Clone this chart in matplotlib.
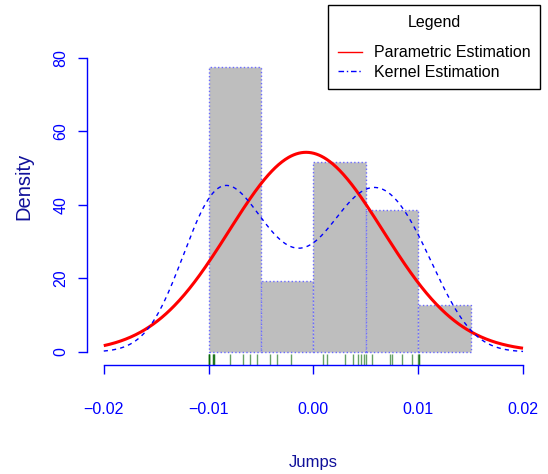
import numpy as np
import matplotlib
matplotlib.use("Agg")
import matplotlib.pyplot as plt
import matplotlib.transforms as mtransforms
from matplotlib.lines import Line2D

jumps = [-0.01000, -0.01000, -0.00995, -0.00995, -0.00957, -0.00957,
         -0.00950, -0.00950, -0.00797, -0.00676, -0.00606, -0.00536,
         -0.00415, -0.00345, -0.00212,
         0.00094, 0.00126, 0.00298, 0.00380, 0.00428, 0.00456, 0.00482, 0.00498,
         0.00558, 0.00730, 0.00752, 0.00848, 0.00937, 0.00995,
         0.01004, 0.01010]
bin_edges = [-0.010, -0.005, 0.000, 0.005, 0.010, 0.015]

# fitted normal and kernel bandwidth
param_mean = -0.0007
param_sd = 0.00735
kernel_bw = 0.0033

x_ticks = [-0.02, -0.01, 0.00, 0.01, 0.02]
x_tick_labels = ["\u22120.02", "\u22120.01", "0.00", "0.01", "0.02"]
y_ticks = [0, 20, 40, 60, 80]
y_tick_labels = ["0", "20", "40", "60", "80"]

plt.rcParams["font.family"] = ["Liberation Sans", "DejaVu Sans"]

fig = plt.figure(figsize=(5.48, 4.74), dpi=100)
ax = fig.add_axes([87 / 548, 1 - 365 / 474, (539.8 - 87) / 548, 350 / 474])

# histogram
ax.hist(jumps, bins=bin_edges, density=True, color="#BEBEBE",
        edgecolor="#6a6aff", linestyle=":", linewidth=1.0)

# density curves over the axis range
xs = np.linspace(x_ticks[0], x_ticks[-1], 500)
obs = np.array(jumps)
normal = np.exp(-0.5 * ((xs - param_mean) / param_sd) ** 2) / (param_sd * np.sqrt(2 * np.pi))
kern = np.exp(-0.5 * ((xs[:, None] - obs[None, :]) / kernel_bw) ** 2).sum(axis=1)
kern = kern / (len(obs) * kernel_bw * np.sqrt(2 * np.pi))

ax.plot(xs, normal, color="red", lw=2.2, solid_capstyle="butt")
ax.plot(xs, kern, color="blue", lw=1.0, dashes=(3.0, 3.0))

# rug
trans = mtransforms.blended_transform_factory(ax.transData, ax.transAxes)
ax.vlines(jumps, 0, 0.032, transform=trans, color="darkgreen", alpha=0.6, lw=1.0)

ax.set_xlim(-0.0216, 0.0216)
ax.set_ylim(-3.53, 91.6)

for s in ["top", "right"]:
    ax.spines[s].set_visible(False)
ax.spines["left"].set_bounds(0, 80)
ax.spines["bottom"].set_bounds(-0.02, 0.02)
for s in ["left", "bottom"]:
    ax.spines[s].set_color("blue")
    ax.spines[s].set_linewidth(1.0)

ax.set_xticks(x_ticks)
ax.set_xticklabels(x_tick_labels)
ax.set_yticks(y_ticks)
ax.set_yticklabels(y_tick_labels, rotation=90, va="center")
ax.tick_params(axis="both", direction="out", length=6.5, width=1.0,
               color="blue", labelcolor="blue", labelsize=11.5)
ax.tick_params(axis="x", pad=20)
ax.tick_params(axis="y", pad=7)

fig.text(24 / 548, 1 - 186 / 474, "Density", rotation=90, ha="center", va="center",
         color="#10109a", fontsize=14.5)
fig.text(313.4 / 548, 1 - 462 / 474, "Jumps", ha="center", va="center",
         color="#10109a", fontsize=12)

handles = [Line2D([], [], color="red", lw=1.0),
           Line2D([], [], color="blue", lw=1.0, linestyle=(0, (4, 2, 1, 2)))]
leg = fig.legend(handles, ["Parametric Estimation", "Kernel Estimation"],
                 title="Legend", loc="upper right",
                 bbox_to_anchor=(540 / 548, 1 - 5 / 474), bbox_transform=fig.transFigure,
                 borderaxespad=0, fancybox=False, framealpha=1, edgecolor="black",
                 fontsize=11.5, title_fontsize=11.5,
                 handlelength=1.5, handletextpad=0.75, borderpad=0.6, labelspacing=0.3)
leg._legend_box.sep = 0.7 * 11.5 * 100 / 72
leg.get_frame().set_linewidth(1.0)

fig.savefig("out.png", dpi=100)
